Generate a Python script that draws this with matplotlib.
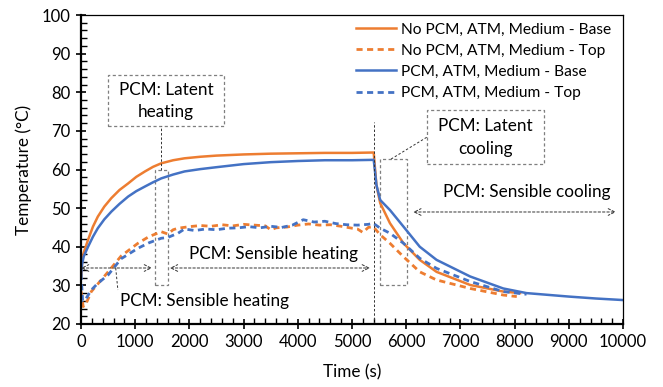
import matplotlib
matplotlib.use('Agg')
import matplotlib.pyplot as plt
from matplotlib.patches import Rectangle

plt.rcParams['font.family'] = ['Lato', 'DejaVu Sans']

# measured temperatures, base and top of the module, with and without PCM
t_nopcm_base = [0, 20, 50, 130, 220, 310, 430, 560, 710, 870, 1020, 1180, 1330, 1480, 1700, 1910, 2200, 2500,
                3000, 3500, 4000, 4500, 5000, 5400, 5420, 5450, 5520, 5700, 5950, 6250, 6560, 7180, 7790, 8100]
T_nopcm_base = [32, 36, 38.5, 41.8, 45.2, 47.8, 50.4, 52.6, 54.7, 56.4, 58.1, 59.5, 60.7, 61.6, 62.4, 62.9, 63.3,
                63.6, 63.9, 64.1, 64.2, 64.3, 64.3, 64.4, 61, 56, 51.3, 46.1, 40.9, 36.6, 33.5, 30.1, 28.4, 28]

t_nopcm_top = [0, 40, 100, 190, 300, 500, 740, 1050, 1250, 1480, 1600, 1700, 1790, 2000, 2200, 2400, 2600,
               2800, 3000, 3200, 3400, 3500, 3600, 3800, 4000, 4200, 4400, 4600, 4800, 5000, 5100, 5200,
               5300, 5390, 5520, 5700, 5950, 6250, 6560, 7180, 7790, 8040]
T_nopcm_top = [28.5, 24.5, 25.5, 28.4, 30.2, 33.5, 37.6, 40.9, 42.6, 43.9, 43.3, 44.4, 44.8, 45.2, 45.5, 45.3,
               45.7, 45.4, 45.8, 45.6, 45.4, 44.4, 44.9, 45.1, 45.6, 45.9, 45.6, 45.7, 45.3, 44.8, 44.6, 43.7,
               45.0, 45.2, 43.1, 40.9, 37.4, 33.5, 31.4, 29.2, 27.5, 27.1]

t_pcm_base = [0, 20, 50, 130, 220, 310, 430, 560, 710, 870, 1020, 1180, 1330, 1480, 1700, 1910, 2200, 2500,
              3000, 3500, 4000, 4500, 5000, 5400, 5420, 5450, 5520, 5700, 5950, 6250, 6560, 7180, 7790, 8220,
              9000, 9500, 10000]
T_pcm_base = [32.5, 35.5, 37.5, 40, 42.6, 44.8, 47.1, 49.1, 51.1, 53, 54.4, 55.6, 56.7, 57.7, 58.7, 59.5, 60.1,
              60.6, 61.4, 61.9, 62.2, 62.4, 62.4, 62.5, 60, 56, 52.1, 49.5, 45.2, 40, 36.6, 32.3, 29.2, 28,
              27.1, 26.6, 26.2]

t_pcm_top = [0, 30, 80, 190, 300, 500, 740, 1050, 1250, 1480, 1600, 1790, 1910, 2100, 2300, 2500, 2700, 2900,
             3100, 3300, 3500, 3700, 3900, 4100, 4300, 4500, 4700, 4900, 5100, 5300, 5390, 5520, 5700, 5950,
             6250, 6560, 7180, 7790, 8220]
T_pcm_top = [33, 26, 26.3, 28.8, 30.4, 32.7, 36.9, 39.6, 41, 42.2, 42.4, 43.5, 44.6, 44.2, 44.6, 44.4, 44.8,
             44.9, 45.2, 44.9, 45.3, 45.0, 45.6, 47.0, 46.4, 46.6, 46.0, 45.7, 45.6, 45.8, 46.1, 44.8, 43.5,
             40.9, 37, 34.4, 31, 28.4, 27.7]

orange = '#ED7D31'
blue = '#4472C4'
grey = '#7f7f7f'
fs = 12.3

fig = plt.figure(figsize=(6.63, 3.87), dpi=100)
ax = fig.add_axes([0.1222, 0.1628, 0.8175, 0.7984])

ax.plot(t_nopcm_base, T_nopcm_base, color=orange, lw=1.8, label='No PCM, ATM, Medium - Base')
ax.plot(t_nopcm_top, T_nopcm_top, color=orange, lw=2.0, ls=(0, (2.2, 1.6)), label='No PCM, ATM, Medium - Top')
ax.plot(t_pcm_base, T_pcm_base, color=blue, lw=1.8, label='PCM, ATM, Medium - Base')
ax.plot(t_pcm_top, T_pcm_top, color=blue, lw=2.0, ls=(0, (2.2, 1.6)), label='PCM, ATM, Medium - Top')

ax.set_xlim(0, 10000)
ax.set_ylim(20, 100)
ax.set_xticks(range(0, 10001, 1000))
ax.set_yticks(range(20, 101, 10))
ax.set_xticks(range(0, 10001, 200), minor=True)
ax.set_yticks(range(20, 101, 2), minor=True)
ax.tick_params(which='major', direction='inout', length=7, width=1.2, labelsize=12, pad=4)
ax.tick_params(which='minor', direction='in', length=4, width=1.0)
for s in ['left', 'bottom']:
    ax.spines[s].set_linewidth(1.6)
for s in ['top', 'right']:
    ax.spines[s].set_linewidth(0.9)
ax.set_xlabel('Time (s)', fontsize=fs, labelpad=10)
ax.set_ylabel('Temperature (°C)', fontsize=fs, labelpad=7)

ax.legend(loc='upper right', frameon=False, fontsize=11.2, handlelength=2.6, handletextpad=0.3,
          labelspacing=0.46, borderaxespad=0, borderpad=0.25, bbox_to_anchor=(0.985, 0.988))

dash = (0, (2.5, 2))
kw = dict(color='#333333', lw=0.7, ls=dash)

# dashed phase windows
ax.add_patch(Rectangle((1370, 30), 230, 30, fill=False, ec=grey, lw=0.9, ls=dash))
ax.add_patch(Rectangle((5520, 30), 490, 32.7, fill=False, ec=grey, lw=0.9, ls=dash))

# label boxes, one centred text per line
ax.add_patch(Rectangle((500, 71.3), 2140, 13.2, fill=False, ec=grey, lw=0.9, ls=dash))
ax.text(1570, 80.6, 'PCM: Latent', ha='center', va='center', fontsize=fs)
ax.text(1570, 75.0, 'heating', ha='center', va='center', fontsize=fs)
ax.plot([1480, 1480], [60, 71.3], **kw)

ax.add_patch(Rectangle((6385, 61.5), 2155, 13.9, fill=False, ec=grey, lw=0.9, ls=dash))
ax.text(7462, 71.2, 'PCM: Latent', ha='center', va='center', fontsize=fs)
ax.text(7462, 65.4, 'cooling', ha='center', va='center', fontsize=fs)
ax.plot([5720, 6385], [62.7, 68.4], **kw)

# phase spans
arrow = dict(arrowstyle='<->', color='#333333', lw=0.7, ls=dash, mutation_scale=12, shrinkA=0, shrinkB=0)
ax.annotate('', xy=(1310, 34.5), xytext=(0, 34.5), arrowprops=arrow)
ax.annotate('', xy=(5330, 34.5), xytext=(1640, 34.5), arrowprops=arrow)
ax.annotate('', xy=(9870, 49), xytext=(6130, 49), arrowprops=arrow)
ax.plot([640, 680], [34.5, 28.8], **kw)
ax.plot([5400, 5400], [20, 72.4], **kw)

ax.text(710, 26.0, 'PCM: Sensible heating', ha='left', va='center', fontsize=fs)
ax.text(3545, 38.2, 'PCM: Sensible heating', ha='center', va='center', fontsize=fs)
ax.text(8230, 54.2, 'PCM: Sensible cooling', ha='center', va='center', fontsize=fs)

fig.savefig('out.png', dpi=100)
